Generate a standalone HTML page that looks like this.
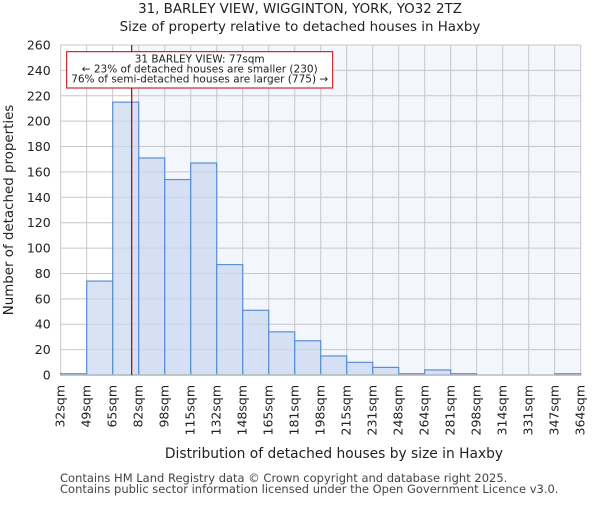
<!DOCTYPE html>
<html><head><meta charset="utf-8"><style>
body{margin:0;background:#fff;font-family:"Liberation Sans","DejaVu Sans",sans-serif;}
svg text{font-family:"DejaVu Sans","Liberation Sans",sans-serif;}
</style></head><body>
<svg id="c" width="600" height="500" xmlns="http://www.w3.org/2000/svg">
<text x="300" y="13" text-anchor="middle" font-size="13.4" fill="#222">31, BARLEY VIEW, WIGGINTON, YORK, YO32 2TZ</text>
<text x="300" y="31" text-anchor="middle" font-size="13.4" fill="#222">Size of property relative to detached houses in Haxby</text>
<g id="plot"></g>
<text x="334" y="458" text-anchor="middle" font-size="13.8" fill="#222">Distribution of detached houses by size in Haxby</text>
<text transform="translate(13,210) rotate(-90)" text-anchor="middle" font-size="13.4" fill="#222">Number of detached properties</text>
<text x="60" y="482" font-size="11.5" fill="#444">Contains HM Land Registry data © Crown copyright and database right 2025.</text>
<text x="60" y="493" font-size="11.5" fill="#444">Contains public sector information licensed under the Open Government Licence v3.0.</text>
</svg>
<script>
const binLabels=["32sqm","49sqm","65sqm","82sqm","98sqm","115sqm","132sqm","148sqm","165sqm","181sqm","198sqm","215sqm","231sqm","248sqm","264sqm","281sqm","298sqm","314sqm","331sqm","347sqm","364sqm"];
const counts=[1,74,215,171,154,167,87,51,34,27,15,10,6,1,4,1,0,0,0,1];
const yTicks=[0,20,40,60,80,100,120,140,160,180,200,220,240,260];
const markerBin=2.73;
const NS="http://www.w3.org/2000/svg";
const L=60.7,R=580.7,T=45,B=375,yMax=260;
const bw=(R-L)/counts.length;
const xs=i=>L+i*bw;
const ys=v=>B-(v/yMax)*(B-T);
const g=document.getElementById('plot');
function mk(t,a){const e=document.createElementNS(NS,t);for(const k in a)e.setAttribute(k,a[k]);g.appendChild(e);return e;}
let e=mk('rect',{x:L,y:T,width:R-L,height:B-T,fill:'#f3f6fd'});


e=mk('rect',{x:L,y:T,width:xs(markerBin)-L,height:B-T,fill:'#fff'});


yTicks.forEach(v=>{
 let l=mk('line',{x1:L,x2:R,y1:ys(v),y2:ys(v),stroke:'#c8c8c8','stroke-width':1});
 
 
 let t=mk('text',{x:L-10,y:ys(v)+4.5,'text-anchor':'end','font-size':12.5,fill:'#222'});
 t.textContent=v;
 
 
});
binLabels.forEach((s,i)=>{
 let l=mk('line',{x1:xs(i),x2:xs(i),y1:T,y2:B,stroke:'#c8c8c8','stroke-width':1});
 
 
 let t=mk('text',{transform:`translate(${xs(i)+4},${B+10}) rotate(-90)`,'text-anchor':'end','font-size':12.5,fill:'#222'});
 t.textContent=s;
 
 
});
counts.forEach((v,i)=>{
 if(v<=0)return;
 let r=mk('rect',{x:xs(i),y:ys(v),width:bw,height:B-ys(v),fill:'rgba(200,215,240,0.7)',stroke:'#5b8fd6','stroke-width':1.2});
 
 
});
e=mk('line',{x1:L,x2:R,y1:B,y2:B,stroke:'#bbb','stroke-width':1.5});


e=mk('line',{x1:xs(markerBin),x2:xs(markerBin),y1:T,y2:B,stroke:'#b00000','stroke-width':1.2});


e=mk('rect',{x:66.7,y:51.7,width:266,height:36.3,fill:'#fff',stroke:'#c00000','stroke-width':1});


["31 BARLEY VIEW: 77sqm","← 23% of detached houses are smaller (230)","76% of semi-detached houses are larger (775) →"].forEach((s,i)=>{
 let t=mk('text',{x:199.7,y:62.5+i*10,'text-anchor':'middle','font-size':10.5,fill:'#222'});
 t.textContent=s;
 
 
});
</script>
</body></html>
